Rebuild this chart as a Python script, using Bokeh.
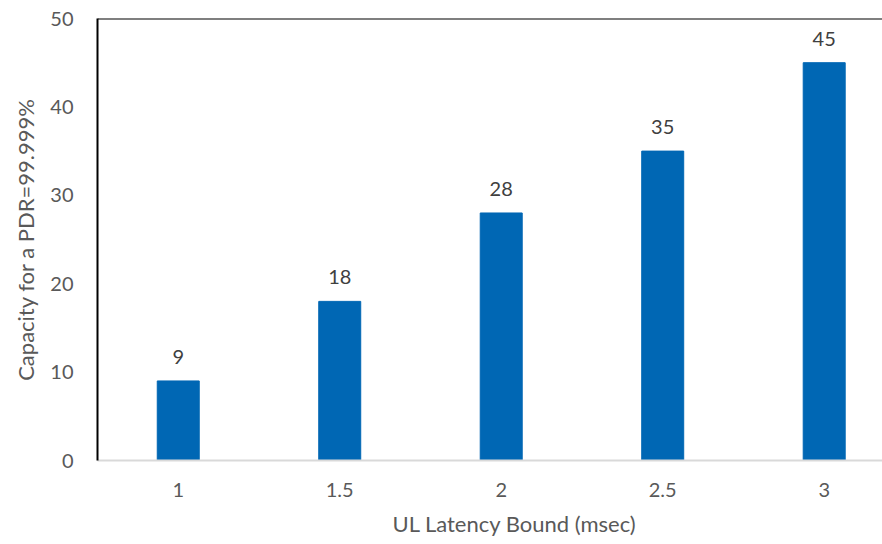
from bokeh.plotting import figure
from bokeh.models import FixedTicker, Span, Range1d, Title
from bokeh.core.properties import value
from bokeh.embed import file_html
from bokeh.resources import INLINE

categories = ["1", "1.5", "2", "2.5", "3"]
capacity = [9, 18, 28, 35, 45]
y_ticks = [0, 10, 20, 30, 40, 50]
x_title = "UL Latency Bound (msec)"
y_title = "Capacity for a PDR=99.999%"

xs = list(range(1, len(categories) + 1))
FONT = "Lato"

p = figure(width=882, height=544, output_backend="svg", toolbar_location=None,
           x_range=Range1d(0.5, 5.361), y_range=Range1d(0, 50),
           min_border_left=97, min_border_top=18, min_border_right=0, min_border_bottom=80)
p.outline_line_color = None
p.xgrid.visible = False
p.ygrid.visible = False
p.background_fill_color = "white"

p.vbar(x=xs, top=capacity, width=0.26, color="#0067B4")
p.text(x=xs, y=capacity, text=[str(v) for v in capacity], text_align="center",
       text_baseline="alphabetic", y_offset=-24, text_font=value(FONT),
       text_font_size="20px", text_color="#404040")

p.add_layout(Span(location=50, dimension="width", line_color="black", line_width=2))

xa = p.xaxis[0]
xa.ticker = FixedTicker(ticks=xs)
xa.major_label_overrides = {x: c for x, c in zip(xs, categories)}
xa.axis_line_color = "#D9D9D9"
xa.axis_line_width = 2
xa.major_tick_line_color = None
xa.minor_tick_line_color = None
xa.major_tick_out = 0
xa.major_label_standoff = 22

xt = Title(text=x_title, align="left", offset=295, text_font=FONT,
           text_font_size="22px", text_font_style="normal", text_color="#595959",
           standoff=16)
p.add_layout(xt, "below")

ya = p.yaxis[0]
ya.ticker = FixedTicker(ticks=y_ticks)
ya.axis_line_color = "black"
ya.axis_line_width = 2
ya.major_tick_line_color = None
ya.minor_tick_line_color = None
ya.major_tick_out = 0
ya.major_label_standoff = 24
ya.axis_label = y_title
ya.axis_label_standoff = 8
ya.axis_label_text_font_size = "22px"

for ax in (xa, ya):
    ax.major_label_text_font = FONT
    ax.major_label_text_font_size = "20px"
    ax.major_label_text_color = "#595959"
    ax.axis_label_text_font = FONT
    ax.axis_label_text_font_style = "normal"
    ax.axis_label_text_color = "#595959"

open("out.html", "w").write(file_html(p, INLINE))
